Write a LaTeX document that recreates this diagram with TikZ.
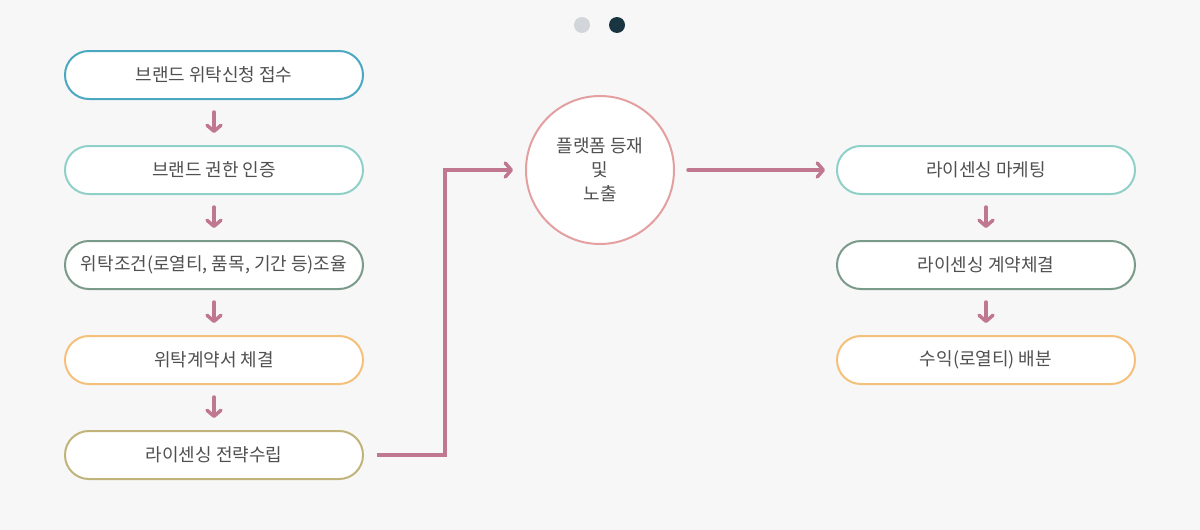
\documentclass[tikz,border=0pt]{standalone}
\usepackage{fontspec}
\setmainfont{Noto Sans CJK KR}
\usetikzlibrary{arrows.meta,positioning}

\definecolor{fond}{HTML}{F7F7F7}
\definecolor{texte}{HTML}{505050}
\definecolor{mauve}{HTML}{C07890}
\definecolor{bleu}{HTML}{4AA8C0}
\definecolor{turquoise}{HTML}{8FD0C8}
\definecolor{sauge}{HTML}{7A9A8A}
\definecolor{orange}{HTML}{F5C07A}
\definecolor{olive}{HTML}{C0B47A}
\definecolor{rose}{HTML}{E4A0A0}
\definecolor{pointgris}{HTML}{D2D5D9}
\definecolor{pointnuit}{HTML}{1A3542}

\tikzset{
  etape/.style={draw, line width=2pt, fill=white, rounded corners=23.9pt,
    minimum width=298pt, minimum height=48pt, text=texte,
    font=\fontsize{18}{22}\selectfont},
  fleche/.style={draw=mauve, line width=3.5pt, line cap=round,
    -{Straight Barb[length=6pt,width=14pt,round]}}
}

\begin{document}
\begin{tikzpicture}[x=1pt,y=-1pt]
\useasboundingbox[fill=fond] (0,0) rectangle (1200,530);

%pagination
\def \RayonPoint {8pt}
\fill[pointgris] (582,25) circle (\RayonPoint);
\fill[pointnuit] (617,25) circle (\RayonPoint);

%colonne de gauche
\foreach \i/\y/\c/\t in {%
    1/75/bleu/{브랜드 위탁신청 접수},%
    2/170/turquoise/{브랜드 권한 인증},%
    3/265/sauge/{위탁조건(로열티, 품목, 기간 등)조율},%
    4/360/orange/{위탁계약서 체결},%
    5/455/olive/{라이센싱 전략수립}%
}{
    \node[etape, draw=\c] (g\i) at (214,\y) {\t};
}

%colonne de droite
\foreach \i/\y/\c/\t in {%
    1/170/turquoise/{라이센싱 마케팅},%
    2/265/sauge/{라이센싱 계약체결},%
    3/360/orange/{수익(로열티) 배분}%
}{
    \node[etape, draw=\c] (d\i) at (986,\y) {\t};
}

%cercle central
\node[circle, draw=rose, line width=2pt, fill=white, minimum size=148pt,
      align=center, text=texte, font=\fontsize{18}{24}\selectfont]
      (plat) at (600,170) {플랫폼 등재\\및\\노출};

%fleches verticales
\foreach \a/\b in {1/2,2/3,3/4,4/5}{\draw[fleche] ([yshift=-12pt]g\a.south)--([yshift=12pt]g\b.north);}
\foreach \a/\b in {1/2,2/3}{\draw[fleche] ([yshift=-12pt]d\a.south)--([yshift=12pt]d\b.north);}

%liaisons
\draw[fleche, line cap=butt] ([xshift=13pt]g5.east) -- ++(68,0) |- ([xshift=-12pt]plat.west);
\draw[fleche] ([xshift=13pt]plat.east) -- ([xshift=-11pt]d1.west);

\end{tikzpicture}
\end{document}
